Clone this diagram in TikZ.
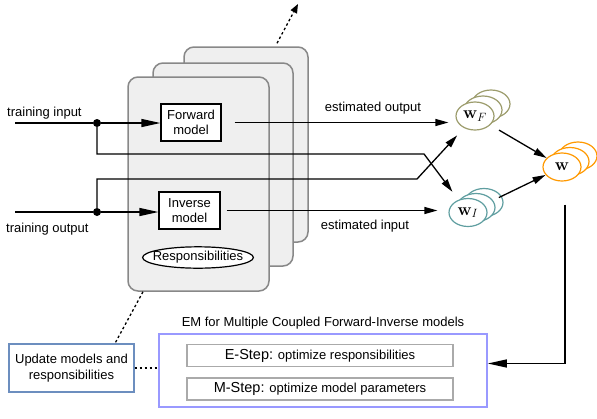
\documentclass[tikz,border=0pt]{standalone}
\usepackage[no-math]{fontspec}
\setmainfont{Liberation Sans}
\usepackage{amsmath,amssymb}
\usepackage{tikz}
\usetikzlibrary{positioning, calc, arrows.meta, shapes.geometric}

\definecolor{panelfill}{HTML}{EFEFEF}
\definecolor{panelline}{HTML}{888888}
\definecolor{emblue}{HTML}{9999FF}
\definecolor{updblue}{HTML}{6C8EBF}
\definecolor{stepgray}{HTML}{AAAAAA}
\definecolor{wfcol}{HTML}{9C9C6C}
\definecolor{wicol}{HTML}{5F9EA0}
\definecolor{wcol}{HTML}{FF9900}

\begin{document}
\begin{tikzpicture}[x=1pt, y=-1pt,
    font=\fontsize{13}{15.5}\selectfont,
    panel/.style={draw=panelline, fill=panelfill, line width=1.5pt, rounded corners=10pt},
    block/.style={draw, fill=white, line width=1.2pt, align=center, inner sep=0pt},
    wstack/.style={ellipse, draw, fill=white, line width=1.2pt, minimum width=38pt,
                   minimum height=28pt, inner sep=0pt, font=\fontsize{17.28}{18}\selectfont},
    stackc/.style={line width=1.2pt, fill=white},
    stepbox/.style={draw=stepgray, line width=1.2pt, minimum width=266pt, minimum height=22pt, inner sep=0pt},
    wire/.style={line width=1.3pt},
    arr/.style={wire, -{Triangle[length=13pt,width=7pt]}},
    longarr/.style={wire, -{Triangle[length=19pt,width=8pt]}},
    dot/.style={circle, fill, inner sep=0pt, minimum size=8pt},
    dotline/.style={line width=1.3pt, dash pattern=on 2.5pt off 2.5pt},
    lbl/.style={inner sep=0pt}]

    \useasboundingbox (0,0) rectangle (597,418);

    % Stacked model panels, back to front
    \node[panel, minimum width=124pt, minimum height=195pt] (back) at (246,144.5) {};
    \node[panel, minimum width=140pt, minimum height=203pt] (mid) at (223,164.5) {};
    \node[panel, minimum width=141pt, minimum height=214pt] (front) at (198.5,184) {};

    % Forward and inverse model blocks
    \node[block, minimum width=60pt, minimum height=37pt] (fwd) at (191,122.5) {Forward\\model};
    \node[block, minimum width=61pt, minimum height=37pt] (inv) at (189.5,210.5) {Inverse\\model};
    \node[ellipse, draw, fill=white, line width=1.2pt, inner xsep=-6pt, inner ysep=1.5pt] (resp) at (198,257.5) {Responsibilities};

    % Inputs and junctions
    \coordinate (tin) at (15,123);
    \coordinate (tout) at (15,212);
    \node[dot] (jin) at (97,123) {};
    \node[dot] (jout) at (97,212) {};
    \node[lbl, anchor=west] (tinlbl) at (7,113) {training input};
    \node[lbl, anchor=west] (toutlbl) at (6,229) {training output};

    % Weight stacks
    \foreach \d in {2,1}
        \draw[stackc, draw=wfcol] (475+8*\d, 116-6*\d) ellipse (19 and 14);
    \node[wstack, draw=wfcol] (wF) at (475,116) {$\mathbf{w}_F$};
    \foreach \d in {2,1}
        \draw[stackc, draw=wicol] (468+8*\d, 212.5-5*\d) ellipse (19 and 14);
    \node[wstack, draw=wicol] (wI) at (468,212.5) {$\mathbf{w}_I$};
    \foreach \d in {2,1}
        \draw[stackc, draw=wcol] (562+8*\d, 167-5.5*\d) ellipse (19 and 14);
    \node[wstack, draw=wcol] (W) at (562,167) {$\mathbf{w}$};

    % Training signals into the models
    \draw[wire] (tin) -- (jin);
    \draw[longarr] (jin) -- (jin -| fwd.west);
    \draw[wire] (tout) -- (jout);
    \draw[longarr] (jout) -- (jout -| inv.west);

    % Crossing paths to the weights
    \coordinate (bendA) at (424,154);
    \coordinate (bendB) at (417,179);
    \draw[arr, shorten >=10pt] (jin) |- (bendA) -- (wI);
    \draw[arr, shorten >=10pt] (jout) |- (bendB) -- (wF);

    % Model outputs
    \draw[arr, shorten <=13pt, shorten >=7pt] (fwd.east) -- (fwd.east -| wF.west);
    \draw[arr, shorten <=6pt, shorten >=11pt] (inv.east) -- (inv.east -| wI.west);
    \node[lbl] (estout) at (373,108) {estimated output};
    \node[lbl] (estin) at (365,226) {estimated input};

    % Combine weights
    \draw[arr, shorten <=10pt] (wF) -- (W);
    \draw[arr, shorten <=16pt] (wI) -- (W);

    % EM box
    \node[draw=emblue, line width=1.5pt, minimum width=328pt, minimum height=73pt] (em) at (323,370.5) {};
    \node[lbl] (emtitle) at (323,323) {EM for Multiple Coupled Forward-Inverse models};
    \node[stepbox] (estep) at (320,355.5) {{\fontsize{14.5}{15}\selectfont E-Step:} optimize responsibilities};
    \node[stepbox] (mstep) at (320,389) {{\fontsize{14.5}{15}\selectfont M-Step:} optimize model parameters};

    % Update box
    \node[draw=updblue, line width=1.3pt, minimum width=125pt, minimum height=48pt, align=center, inner sep=0pt] (update) at (71.5,368) {Update models and\\responsibilities};

    % Dotted links
    \draw[dotline] ([xshift=-55.5pt]front.south) -- ([xshift=43.5pt]update.north);
    \draw[dotline] (update.east) -- (update.east -| em.west);
    \coordinate (up) at (298,4);
    \draw[dotline, -{Triangle[length=9pt,width=7pt]}] ([xshift=31pt,yshift=3pt]back.north) -- (up);

    % Feedback from the weights into EM
    \draw[longarr] ([xshift=3pt,yshift=-23pt]W.south) |- ([yshift=7pt]em.east);

\end{tikzpicture}
\end{document}
